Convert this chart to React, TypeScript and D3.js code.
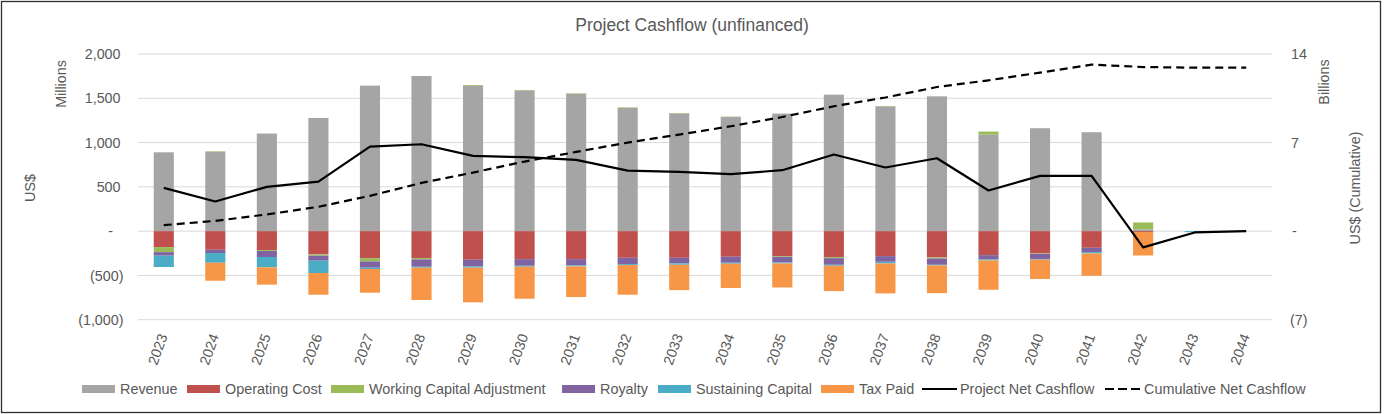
import React from "react";
import * as d3 from "d3";

const years = ["2023","2024","2025","2026","2027","2028","2029","2030","2031","2032","2033","2034","2035","2036","2037","2038","2039","2040","2041","2042","2043","2044"];
const revenue = [890, 897, 1102, 1278, 1643, 1752, 1642, 1589, 1551, 1393, 1329, 1288, 1327, 1541, 1408, 1522, 1089, 1162, 1117, 20, 0, 0];
const operatingCost = [-180, -210, -214, -263, -304, -304, -323, -316, -316, -301, -301, -289, -282, -293, -282, -297, -271, -252, -188, -10, 0, 0];
const workingCapital = [-57, 5, -10, -15, -38, -15, 8, 5, 5, 5, 5, 5, -8, -12, 5, -12, 35, -6, 0, 78, 0, 0];
const royalty = [-40, -37, -68, -56, -71, -83, -75, -75, -71, -71, -64, -68, -64, -75, -64, -71, -49, -56, -49, 0, 0, 0];
const sustainingCapital = [-128, -110, -117, -139, -15, -11, -15, -11, -11, -11, -15, -11, -11, -11, -19, -8, -11, -8, -15, 0, -12, 0];
const taxPaid = [0, -203, -195, -245, -267, -365, -391, -361, -346, -335, -286, -274, -271, -286, -338, -312, -331, -218, -252, -265, 0, 0];
const netCashflow = [489, 335, 500, 560, 955, 981, 849, 835, 804, 684, 669, 643, 688, 865, 718, 823, 459, 624, 624, -184, -15, 0];
const cumulativeBillions = [0.47, 0.81, 1.32, 1.92, 2.79, 3.81, 4.63, 5.5, 6.26, 7.0, 7.63, 8.29, 9.02, 9.87, 10.56, 11.39, 11.92, 12.53, 13.16, 12.97, 12.92, 12.92];

const leftTicks = [-1000, -500, 0, 500, 1000, 1500, 2000];
const rightTicks = [-7, 0, 7, 14];

const seriesNames = ["Revenue", "Operating Cost", "Working Capital Adjustment", "Royalty", "Sustaining Capital", "Tax Paid"];
const seriesValues = [revenue, operatingCost, workingCapital, royalty, sustainingCapital, taxPaid];
const seriesColors = ["#A5A5A5", "#C0504D", "#9BBB59", "#8064A2", "#4BACC6", "#F79646"];

const W = 1384, H = 414;
const FONT = "'Liberation Sans', Arial, sans-serif";
const TXT = "#595959";

function fmtLeft(v: number) {
  if (v === 0) return "-";
  const s = d3.format(",")(Math.abs(v));
  return v < 0 ? `(${s})` : s;
}
function fmtRight(v: number) {
  if (v === 0) return "-";
  return v < 0 ? `(${Math.abs(v)})` : `${v}`;
}

export default function App() {
  const x = d3.scaleBand<string>().domain(years).range([138, 1272]).padding(0);
  const yL = d3.scaleLinear().domain([-1000, 2000]).range([319.7, 54]);
  const yR = d3.scaleLinear().domain([-7, 14]).range([319.7, 54]);
  const barW = x.bandwidth() * 0.39;
  const cx = (y: string) => (x(y) as number) + x.bandwidth() / 2;

  const rows = years.map((yr, i) => {
    const r: any = { year: yr };
    seriesNames.forEach((n, k) => (r[n] = seriesValues[k][i]));
    return r;
  });
  const stacked = d3.stack<any>().keys(seriesNames).offset(d3.stackOffsetDiverging)(rows);

  const netLine = d3.line<number>().x((_, i) => cx(years[i])).y((d) => yL(d))(netCashflow) || "";
  const cumLine = d3.line<number>().x((_, i) => cx(years[i])).y((d) => yR(d))(cumulativeBillions) || "";

  const legendX = [82, 187, 331, 562, 658, 821];

  return (
    <svg width={W} height={H} style={{ position: "fixed", left: 0, top: 0, background: "#fff" }} fontFamily={FONT}>
      <rect x={0} y={0} width={W} height={H} fill="#fff" />
      <rect x={1.5} y={1.5} width={1379} height={411} fill="none" stroke="#303030" strokeWidth={1.3} />
      <text x={692} y={31} textAnchor="middle" fontSize={17.5} fill={TXT}>Project Cashflow (unfinanced)</text>

      {leftTicks.map((t) => (
        <line key={"g" + t} x1={138} x2={1272} y1={yL(t)} y2={yL(t)} stroke="#D9D9D9" strokeWidth={1} />
      ))}
      {leftTicks.map((t) => (
        <text key={"l" + t} x={t < 0 ? 123.5 : t === 0 ? 113 : 120.5} y={yL(t)} dy="0.36em" textAnchor="end" fontSize={14.3} fill={TXT}>{fmtLeft(t)}</text>
      ))}
      {rightTicks.map((t) => (
        <text key={"r" + t} x={t === 0 ? 1292 : t < 0 ? 1290 : 1291} y={yR(t)} dy="0.36em" textAnchor="start" fontSize={14.3} fill={TXT}>{fmtRight(t)}</text>
      ))}

      <text transform="translate(66,84) rotate(-90)" textAnchor="middle" fontSize={14.3} fill={TXT}>Millions</text>
      <text transform="translate(35,188) rotate(-90)" textAnchor="middle" fontSize={14.3} fill={TXT}>US$</text>
      <text transform="translate(1329,82) rotate(-90)" textAnchor="middle" fontSize={14.3} fill={TXT}>Billions</text>
      <text transform="translate(1360,188) rotate(-90)" textAnchor="middle" fontSize={14.3} fill={TXT}>US$ (Cumulative)</text>

      {stacked.map((s, k) => (
        <g key={s.key} fill={seriesColors[k]}>
          {s.map((d, i) => {
            const y0 = yL(d[1]);
            const y1 = yL(d[0]);
            const h = Math.abs(y1 - y0);
            if (h <= 0) return null;
            return <rect key={i} x={cx(years[i]) - barW / 2} y={Math.min(y0, y1)} width={barW} height={h} />;
          })}
        </g>
      ))}

      <path d={netLine} fill="none" stroke="#000" strokeWidth={2.2} strokeLinejoin="round" />
      <path d={cumLine} fill="none" stroke="#000" strokeWidth={2.2} strokeDasharray="8,5" />

      {years.map((yr) => (
        <text key={yr} transform={`translate(${cx(yr) + 4},336) rotate(-70)`} textAnchor="end" fontSize={14.3} fill={TXT}>{yr}</text>
      ))}

      {seriesNames.map((n, k) => (
        <g key={n}>
          <rect x={legendX[k]} y={385} width={33} height={8} fill={seriesColors[k]} />
          <text x={legendX[k] + 38} y={389} dy="0.36em" fontSize={14.4} fill={TXT}>{n}</text>
        </g>
      ))}
      <line x1={922} x2={957} y1={389} y2={389} stroke="#000" strokeWidth={2.2} />
      <text x={960} y={389} dy="0.36em" fontSize={14.4} fill={TXT}>Project Net Cashflow</text>
      <line x1={1105} x2={1140} y1={389} y2={389} stroke="#000" strokeWidth={2.2} strokeDasharray="9,4" />
      <text x={1144} y={389} dy="0.36em" fontSize={14.4} fill={TXT}>Cumulative Net Cashflow</text>
    </svg>
  );
}
